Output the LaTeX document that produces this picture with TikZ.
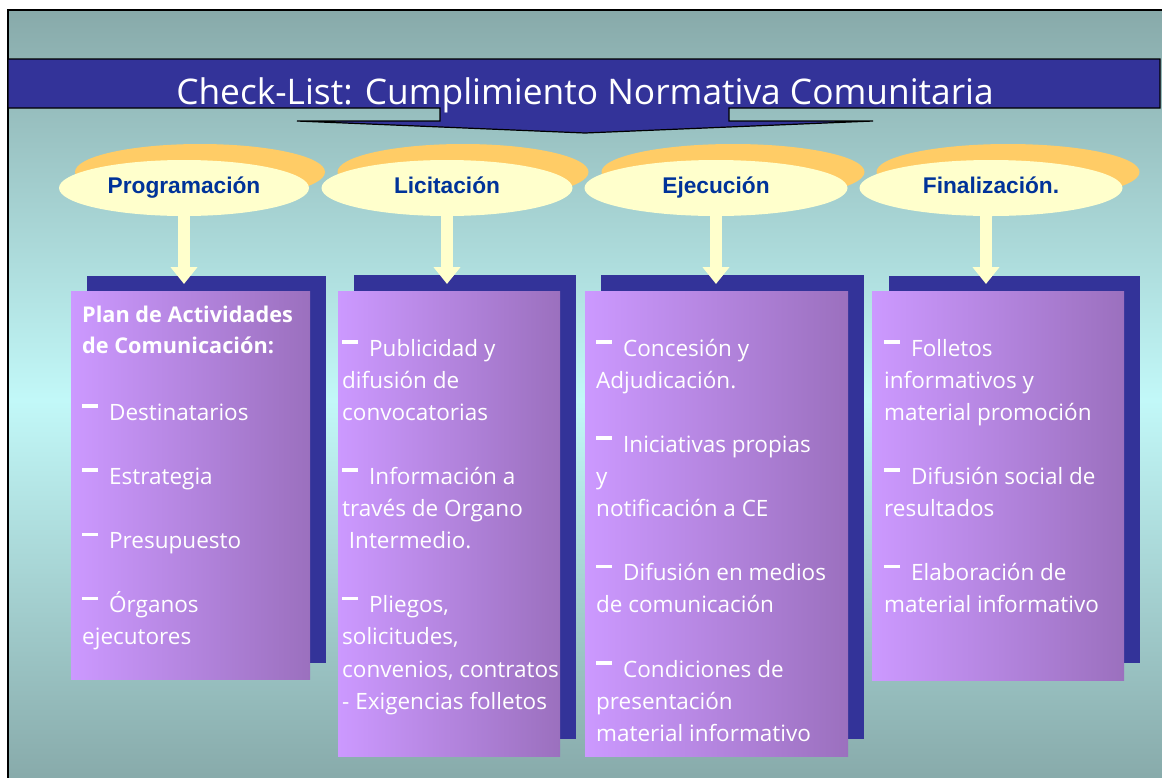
\documentclass[tikz,border=0pt]{standalone}
\usepackage{fontspec}
\setmainfont{Open Sans}
\newfontfamily\labfont{Liberation Sans}
\usetikzlibrary{shapes.geometric,arrows.meta}
\definecolor{bgtop}{HTML}{88AAAA}
\definecolor{bgmid}{HTML}{C2F8F8}
\definecolor{bgbot}{HTML}{86A8A8}
\definecolor{navy}{HTML}{333399}
\definecolor{lblue}{HTML}{003399}
\definecolor{orng}{HTML}{FFCC66}
\definecolor{cream}{HTML}{FFFFCC}
\definecolor{pl}{HTML}{CC99FF}
\definecolor{pr}{HTML}{9B70BE}
\newcommand\bul{\rule[0.55em]{0.7em}{0.16em}\hspace{0.5em}}
\tikzset{
  shadowbox/.style={rectangle, fill=navy, draw=none, inner sep=0pt, anchor=north west},
  frontbox/.style={rectangle, left color=pl, right color=pr, draw=none, inner sep=0pt, anchor=north west},
  backell/.style={ellipse, fill=orng, draw=none, inner sep=0pt, minimum height=56pt},
  frontell/.style={ellipse, fill=cream, draw=none, inner sep=0pt, minimum height=56pt,
    text=lblue, text height=14pt, text depth=4pt,
    font=\labfont\bfseries\fontsize{22.7}{24}\selectfont},
  blockarrow/.style={draw=cream, line width=12pt, shorten >=7pt,
    -{Triangle[width=26pt,length=17pt,fill=cream]}},
  txt/.style={text=white, inner sep=0pt, anchor=base west, font=\fontsize{22.5}{27}\selectfont},
  hdr/.style={text=white, inner sep=0pt, anchor=base west, font=\bfseries\fontsize{21.7}{24}\selectfont},
}
\begin{document}
\begin{tikzpicture}[x=1pt,y=-1pt]
\useasboundingbox (0,0) rectangle (1162,777);
\fill[white] (0,0) rectangle (1162,777);
% background frame
\draw[line width=1.3pt, top color=bgtop, bottom color=bgbot, middle color=bgmid]
  (8,10) rectangle (1175,790);
% title banner (callout)
\draw[fill=navy, line width=1.2pt]
  (8,59) -- (1160,59) -- (1160,108) -- (729,108) -- (729,121) -- (873,121)
  -- (585,133) -- (297,121) -- (440,121) -- (440,108) -- (8,108) -- cycle;
\node[text=white, inner sep=0pt, anchor=base, font=\fontsize{35.3}{38}\selectfont]
  (title) at (585,104) {Check-List: Cumplimiento Normativa Comunitaria};
% shadow boxes
\node[shadowbox, minimum width=239pt, minimum height=387pt] (s1) at (87,276) {};
\node[shadowbox, minimum width=222pt, minimum height=464pt] (s2) at (354,275) {};
\node[shadowbox, minimum width=263pt, minimum height=464pt] (s3) at (601,275) {};
\node[shadowbox, minimum width=251pt, minimum height=387pt] (s4) at (889,276) {};
% front boxes
\node[frontbox, minimum width=239pt, minimum height=388pt] (b1) at (71,291) {};
\node[frontbox, minimum width=222pt, minimum height=465pt] (b2) at (338,291) {};
\node[frontbox, minimum width=263pt, minimum height=465pt] (b3) at (585,291) {};
\node[frontbox, minimum width=252pt, minimum height=389pt] (b4) at (872,291) {};
% ellipses
\node[backell, minimum width=250pt] (o1) at (200,172) {};
\node[backell, minimum width=251pt] (o2) at (463,172) {};
\node[backell, minimum width=263pt] (o3) at (733,172) {};
\node[backell, minimum width=263pt] (o4) at (1008,172) {};
\node[frontell, minimum width=250pt] (e1) at (184,188) {Programación};
\node[frontell, minimum width=251pt] (e2) at (447,188) {Licitación};
\node[frontell, minimum width=263pt] (e3) at (716,188) {Ejecución};
\node[frontell, minimum width=263pt] (e4) at (991,188) {Finalización.};
% arrows
\draw[blockarrow] (e1.south) -- (e1.south |- b1.north);
\draw[blockarrow] (e2.south) -- (e2.south |- b2.north);
\draw[blockarrow] (e3.south) -- (e3.south |- b3.north);
\draw[blockarrow] (986,216) coordinate (a4) -- (a4 |- b4.north);
% box 1 text
\node[hdr] (h1) at (82,322) {Plan de Actividades};
\node[hdr] (h2) at (82,353) {de Comunicación:};
\foreach \k/\t in {2/{\bul Destinatarios}, 4/{\bul Estrategia}, 6/{\bul Presupuesto},
  8/{\bul Órganos}, 9/{ejecutores}}
  \node[txt] (ta-\k) at (82,{356+32.1*\k}) {\t};
% box 2 text
\foreach \k/\t in {0/{\bul Publicidad y}, 1/{difusión de}, 2/{convocatorias},
  4/{\bul Información a}, 5/{través de Organo}, 6/{\hspace{0.3em}Intermedio.},
  8/{\bul Pliegos,}, 9/{solicitudes,}, 10/{convenios, contratos}, 11/{- Exigencias folletos}}
  \node[txt] (tb-\k) at (342,{356+32.1*\k}) {\t};
% box 3 text
\foreach \k/\t in {0/{\bul Concesión y}, 1/{Adjudicación.}, 3/{\bul Iniciativas propias},
  4/{y}, 5/{notificación a CE}, 7/{\bul Difusión en medios}, 8/{de comunicación},
  10/{\bul Condiciones de}, 11/{presentación}, 12/{material informativo}}
  \node[txt] (tc-\k) at (596,{356+32.1*\k}) {\t};
% box 4 text
\foreach \k/\t in {0/{\bul Folletos}, 1/{informativos y}, 2/{material promoción},
  4/{\bul Difusión social de}, 5/{resultados}, 7/{\bul Elaboración de},
  8/{material informativo}}
  \node[txt] (td-\k) at (884,{356+32.1*\k}) {\t};
\end{tikzpicture}
\end{document}
